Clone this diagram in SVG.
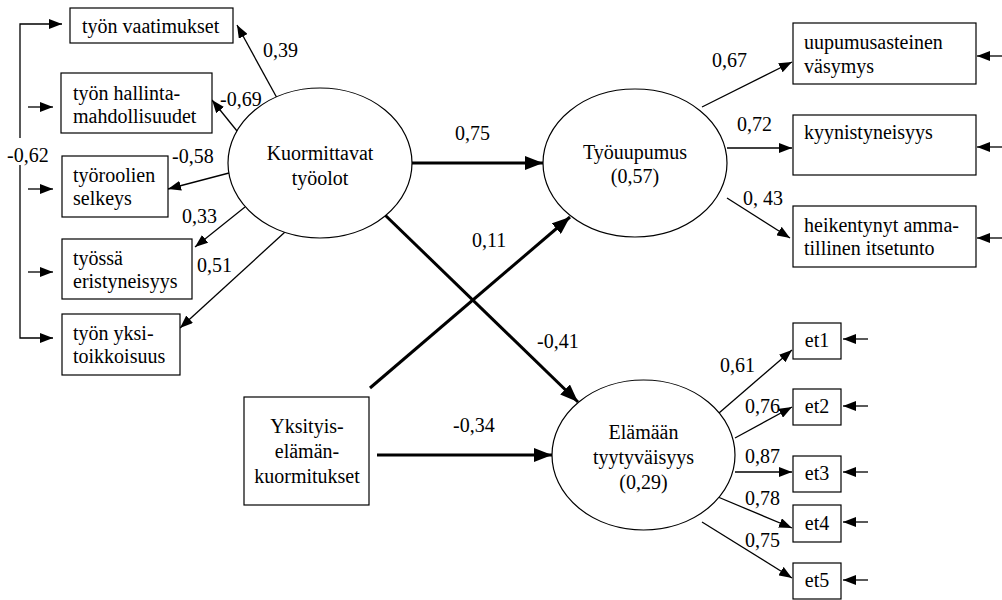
<svg xmlns="http://www.w3.org/2000/svg" width="1002" height="600" viewBox="0 0 1002 600" font-family="Liberation Serif, Times New Roman, DejaVu Serif, serif" font-size="20">
<defs>
<style>
text{fill:#000}
.m{text-anchor:middle}
.box{fill:#fff;stroke:#000;stroke-width:1.2}
.ell{fill:#fff;stroke:#000;stroke-width:1.2}
.thin{fill:none;stroke:#000;stroke-width:1.3;marker-end:url(#a)}
.thick{fill:none;stroke:#000;stroke-width:3;marker-end:url(#b)}
</style>
<marker id="a" markerWidth="13" markerHeight="10" refX="13" refY="5" orient="auto" markerUnits="userSpaceOnUse"><path d="M0,0 L13,5 L0,10z" fill="#000"/></marker>
<marker id="b" markerWidth="18" markerHeight="14" refX="18" refY="7" orient="auto" markerUnits="userSpaceOnUse"><path d="M0,0 L18,7 L0,14z" fill="#000"/></marker>
</defs>
<rect width="1002" height="600" fill="#fff"/>

<g id="connectors">
<polyline class="thin" points="20,138 20,24 62,24"/>
<polyline class="thin" points="20,165 20,338 53,338"/>
<line class="thin" x1="28" y1="107" x2="53" y2="107"/>
<line class="thin" x1="28" y1="189" x2="53" y2="189"/>
<line class="thin" x1="28" y1="272" x2="53" y2="272"/>
<line class="thin" x1="277" y1="98" x2="237" y2="25"/>
<line class="thin" x1="237" y1="131" x2="212" y2="100"/>
<line class="thin" x1="229" y1="173" x2="168" y2="189"/>
<line class="thin" x1="245" y1="207" x2="195" y2="247"/>
<line class="thin" x1="285" y1="232" x2="180" y2="328"/>
<line class="thick" x1="411" y1="163" x2="543" y2="163"/>
<line class="thick" x1="370" y1="388" x2="570" y2="217"/>
<line class="thick" x1="385" y1="215" x2="578" y2="402"/>
<line class="thick" x1="377" y1="455" x2="552" y2="455"/>
<line class="thin" x1="702" y1="107" x2="792" y2="62"/>
<line class="thin" x1="727" y1="148" x2="792" y2="148"/>
<line class="thin" x1="727" y1="198" x2="790" y2="238"/>
<line class="thin" x1="1002" y1="56" x2="977" y2="56"/>
<line class="thin" x1="1002" y1="147" x2="977" y2="147"/>
<line class="thin" x1="1002" y1="238" x2="977" y2="238"/>
<line class="thin" x1="719" y1="413" x2="792" y2="350"/>
<line class="thin" x1="735" y1="438" x2="792" y2="407"/>
<line class="thin" x1="735" y1="472" x2="792" y2="472"/>
<line class="thin" x1="718" y1="497" x2="792" y2="528"/>
<line class="thin" x1="702" y1="522" x2="792" y2="578"/>
<line class="thin" x1="868" y1="339" x2="843" y2="339"/>
<line class="thin" x1="868" y1="406" x2="843" y2="406"/>
<line class="thin" x1="868" y1="472" x2="843" y2="472"/>
<line class="thin" x1="868" y1="522" x2="843" y2="522"/>
<line class="thin" x1="868" y1="580" x2="843" y2="580"/>
</g>

<g id="labels">
<text x="7" y="162">-0,62</text>
<text x="263" y="57">0,39</text>
<text x="220" y="106">-0,69</text>
<text x="172" y="163">-0,58</text>
<text x="182" y="223">0,33</text>
<text x="197" y="272">0,51</text>
<text x="455" y="140">0,75</text>
<text x="472" y="247">0,11</text>
<text x="537" y="348">-0,41</text>
<text x="453" y="432">-0,34</text>
<text x="712" y="67">0,67</text>
<text x="737" y="131">0,72</text>
<text x="743" y="205">0, 43</text>
<text x="720" y="372">0,61</text>
<text x="745" y="413">0,76</text>
<text x="745" y="463">0,87</text>
<text x="745" y="505">0,78</text>
<text x="745" y="547">0,75</text>
</g>

<g id="n-vaatimukset"><rect class="box" x="70" y="8" width="163" height="35"/><text x="82" y="33">työn vaatimukset</text></g>
<g id="n-hallinta"><rect class="box" x="61" y="73" width="151" height="60"/><text x="73" y="100">työn hallinta-</text><text x="73" y="123">mahdollisuudet</text></g>
<g id="n-selkeys"><rect class="box" x="62" y="156" width="106" height="61"/><text x="73" y="182">työroolien</text><text x="73" y="205">selkeys</text></g>
<g id="n-eristyneisyys"><rect class="box" x="62" y="239" width="130" height="60"/><text x="73" y="265">työssä</text><text x="73" y="288">eristyneisyys</text></g>
<g id="n-yksitoikkoisuus"><rect class="box" x="62" y="314" width="118" height="61"/><text x="73" y="340">työn yksi-</text><text x="73" y="363">toikkoisuus</text></g>

<g id="n-kuormittavat"><ellipse class="ell" cx="320" cy="163" rx="92" ry="75"/><text class="m" x="320" y="160">Kuormittavat</text><text class="m" x="320" y="185">työolot</text></g>
<g id="n-tyouupumus"><ellipse class="ell" cx="635" cy="163" rx="92" ry="74"/><text class="m" x="635" y="159">Työuupumus</text><text class="m" x="635" y="183">(0,57)</text></g>
<g id="n-elamaan"><ellipse class="ell" cx="643.5" cy="455" rx="91.5" ry="75"/><text class="m" x="643.5" y="439">Elämään</text><text class="m" x="643.5" y="464">tyytyväisyys</text><text class="m" x="643.5" y="489">(0,29)</text></g>
<g id="n-yksityis"><rect class="box" x="244" y="397" width="125" height="108"/><text class="m" x="307" y="433">Yksityis-</text><text class="m" x="307" y="458">elämän-</text><text class="m" x="307" y="483">kuormitukset</text></g>

<g id="n-vasymys"><rect class="box" x="793" y="23" width="183" height="61"/><text x="804" y="49">uupumusasteinen</text><text x="804" y="73">väsymys</text></g>
<g id="n-kyynistyneisyys"><rect class="box" x="793" y="115" width="183" height="60"/><text x="804" y="139">kyynistyneisyys</text></g>
<g id="n-itsetunto"><rect class="box" x="793" y="206" width="183" height="61"/><text x="804" y="232">heikentynyt amma-</text><text x="804" y="255">tillinen itsetunto</text></g>

<g id="n-et1"><rect class="box" x="793" y="323" width="48" height="36"/><text class="m" x="817" y="347">et1</text></g>
<g id="n-et2"><rect class="box" x="793" y="389" width="48" height="36"/><text class="m" x="817" y="413">et2</text></g>
<g id="n-et3"><rect class="box" x="793" y="456" width="48" height="36"/><text class="m" x="817" y="480">et3</text></g>
<g id="n-et4"><rect class="box" x="793" y="505" width="48" height="37"/><text class="m" x="817" y="530">et4</text></g>
<g id="n-et5"><rect class="box" x="793" y="563" width="48" height="36"/><text class="m" x="817" y="587">et5</text></g>
</svg>
